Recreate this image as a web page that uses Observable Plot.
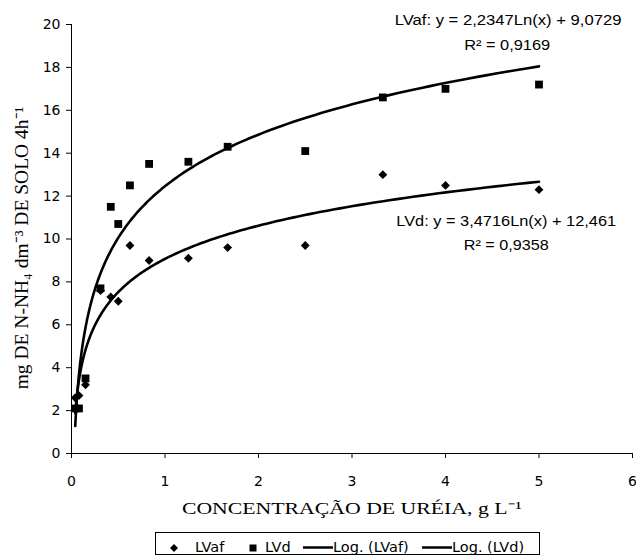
<!DOCTYPE html>
<html><head><meta charset="utf-8">
<script src="https://cdn.jsdelivr.net/npm/d3@7"></script>
<script src="https://cdn.jsdelivr.net/npm/@observablehq/plot@0.6"></script>
<style>
body{margin:0;background:#fff;}
#wrap{position:relative;width:636px;height:555px;overflow:hidden;}
#legend{position:absolute;left:155px;top:532px;width:385px;height:23px;border:1px solid #000;box-sizing:border-box;
  font:14.5px "DejaVu Sans",sans-serif;color:#000;}
#legend .tx{position:absolute;top:4px;line-height:20px;white-space:nowrap;}
#legend svg{position:absolute;top:0;left:0;}
</style>
</head><body>
<div id="wrap"><div id="chart"></div><div id="legend"></div></div>
<script>
// data
const conc = [0.04, 0.08, 0.15, 0.31, 0.42, 0.5, 0.625, 0.83, 1.25, 1.67, 2.5, 3.33, 4, 5];
const lvaf = [2.6, 2.7, 3.2, 7.6, 7.3, 7.1, 9.7, 9.0, 9.1, 9.6, 9.7, 13.0, 12.5, 12.3];
const lvd  = [2.1, 2.1, 3.5, 7.7, 11.5, 10.7, 12.5, 13.5, 13.6, 14.3, 14.1, 16.6, 17.0, 17.2];
// logarithmic trendlines as printed on the chart: y = a Ln(x) + b
const fitNames = ["LVaf", "LVd"];
const fitA = [2.2347, 3.4716];
const fitB = [9.0729, 12.461];
const xTicks = [0, 1, 2, 3, 4, 5, 6];
const yTicks = [0, 2, 4, 6, 8, 10, 12, 14, 16, 18, 20];
const eqLines = ["LVaf: y = 2,2347Ln(x) + 9,0729", "R² = 0,9169", "LVd: y = 3,4716Ln(x) + 12,461", "R² = 0,9358"];
const legendLabels = ["LVaf", "LVd", "Log. (LVaf)", "Log. (LVd)"];

const pts = conc.flatMap((c, i) => [{x: c, y: lvaf[i], s: "LVaf"}, {x: c, y: lvd[i], s: "LVd"}]);
const xmin = d3.min(conc), xmax = d3.max(conc);
const trend = fitNames.flatMap((n, k) => d3.range(0, 201).map(j => {
  const x = xmin * Math.pow(xmax / xmin, j / 200);
  return {x, y: fitA[k] * Math.log(x) + fitB[k], s: n};
}));

const sans = "DejaVu Sans, sans-serif";
const arial = "Liberation Sans, Arial, sans-serif";
const serif = "Liberation Serif, Times New Roman, serif";

const chart = Plot.plot({
  width: 636, height: 532,
  marginLeft: 71, marginRight: 4, marginTop: 24, marginBottom: 79,
  style: {fontFamily: sans, fontSize: "14px", color: "#000", background: "#fff", overflow: "visible"},
  x: {domain: [0, 6]},
  y: {domain: [0, 20]},
  marks: [
    Plot.axisX({ticks: xTicks, tickFormat: d => String(d), tickSize: 5, tickPadding: 18, label: null, fontSize: 14, fontFamily: sans}),
    Plot.axisY({ticks: yTicks, tickFormat: d => String(d), tickSize: 5, tickPadding: 6, label: null, fontSize: 14, fontFamily: sans}),
    Plot.ruleX([0], {stroke: "#000", strokeWidth: 1}),
    Plot.ruleY([0], {stroke: "#000", strokeWidth: 1}),
    Plot.line(trend, {x: "x", y: "y", z: "s", stroke: "#000", strokeWidth: 2.6}),
    Plot.dot(pts.filter(d => d.s === "LVaf"), {x: "x", y: "y", symbol: "diamond2", r: 4.0, fill: "#000", stroke: "none"}),
    Plot.dot(pts.filter(d => d.s === "LVd"), {x: "x", y: "y", symbol: "square", r: 4.4, fill: "#000", stroke: "none"}),
    Plot.text([eqLines[0]], {x: 4.67, y: 20.2, fontSize: 14.5, fontFamily: arial, textAnchor: "middle"}),
    Plot.text([eqLines[1]], {x: 4.66, y: 19.05, fontSize: 14.5, fontFamily: arial, textAnchor: "middle"}),
    Plot.text([eqLines[2]], {x: 4.65, y: 10.8, fontSize: 14.5, fontFamily: arial, textAnchor: "middle"}),
    Plot.text([eqLines[3]], {x: 4.65, y: 9.7, fontSize: 14.5, fontFamily: arial, textAnchor: "middle"}),
    Plot.text(["mg DE N-NH₄ dm⁻³ DE SOLO 4h⁻¹"], {frameAnchor: "left", textAnchor: "middle", rotate: -90, dx: -50, dy: 9, fontSize: 19.5, fontFamily: serif}),
    Plot.text(["CONCENTRAÇÃO DE URÉIA, g L⁻¹"], {frameAnchor: "bottom", dy: 60, fontSize: 17, fontFamily: serif})
  ]
});
document.getElementById("chart").append(chart);

// widen centred texts horizontally like the reference's stretched lettering
const targetWidth = {
  "CONCENTRA": 340,
  "LVaf: y": 227,
  "LVd: y": 220,
  "R² = 0,9169": 86,
  "R² = 0,9358": 85
};
d3.select(chart).selectAll("text").each(function() {
  const t = this.textContent;
  const key = Object.keys(targetWidth).find(k => t.startsWith(k));
  if (!key) return;
  const r = this.getBoundingClientRect();
  const cx = r.x + r.width / 2, cy = r.y + r.height / 2;
  const s = targetWidth[key] / r.width;
  const old = this.getAttribute("transform") || "";
  this.setAttribute("transform", `translate(${cx},${cy}) scale(${s},1) translate(${-cx},${-cy}) ${old}`);
});

// legend
const lg = d3.select("#legend");
const svg = lg.append("svg").attr("width", 385).attr("height", 23);
svg.append("path").attr("d", "M18,11L22,15L18,19L14,15Z").attr("fill", "#000");
svg.append("rect").attr("x", 93.5).attr("y", 11.5).attr("width", 7).attr("height", 7).attr("fill", "#000");
svg.append("line").attr("x1", 147).attr("x2", 177).attr("y1", 14.5).attr("y2", 14.5).attr("stroke", "#000").attr("stroke-width", 2.5);
svg.append("line").attr("x1", 266).attr("x2", 296).attr("y1", 14.5).attr("y2", 14.5).attr("stroke", "#000").attr("stroke-width", 2.5);
const textLeft = [39, 109, 177, 296];
legendLabels.forEach((lab, i) => {
  lg.append("div").attr("class", "tx").style("left", textLeft[i] + "px").text(lab);
});
</script>
</body></html>
